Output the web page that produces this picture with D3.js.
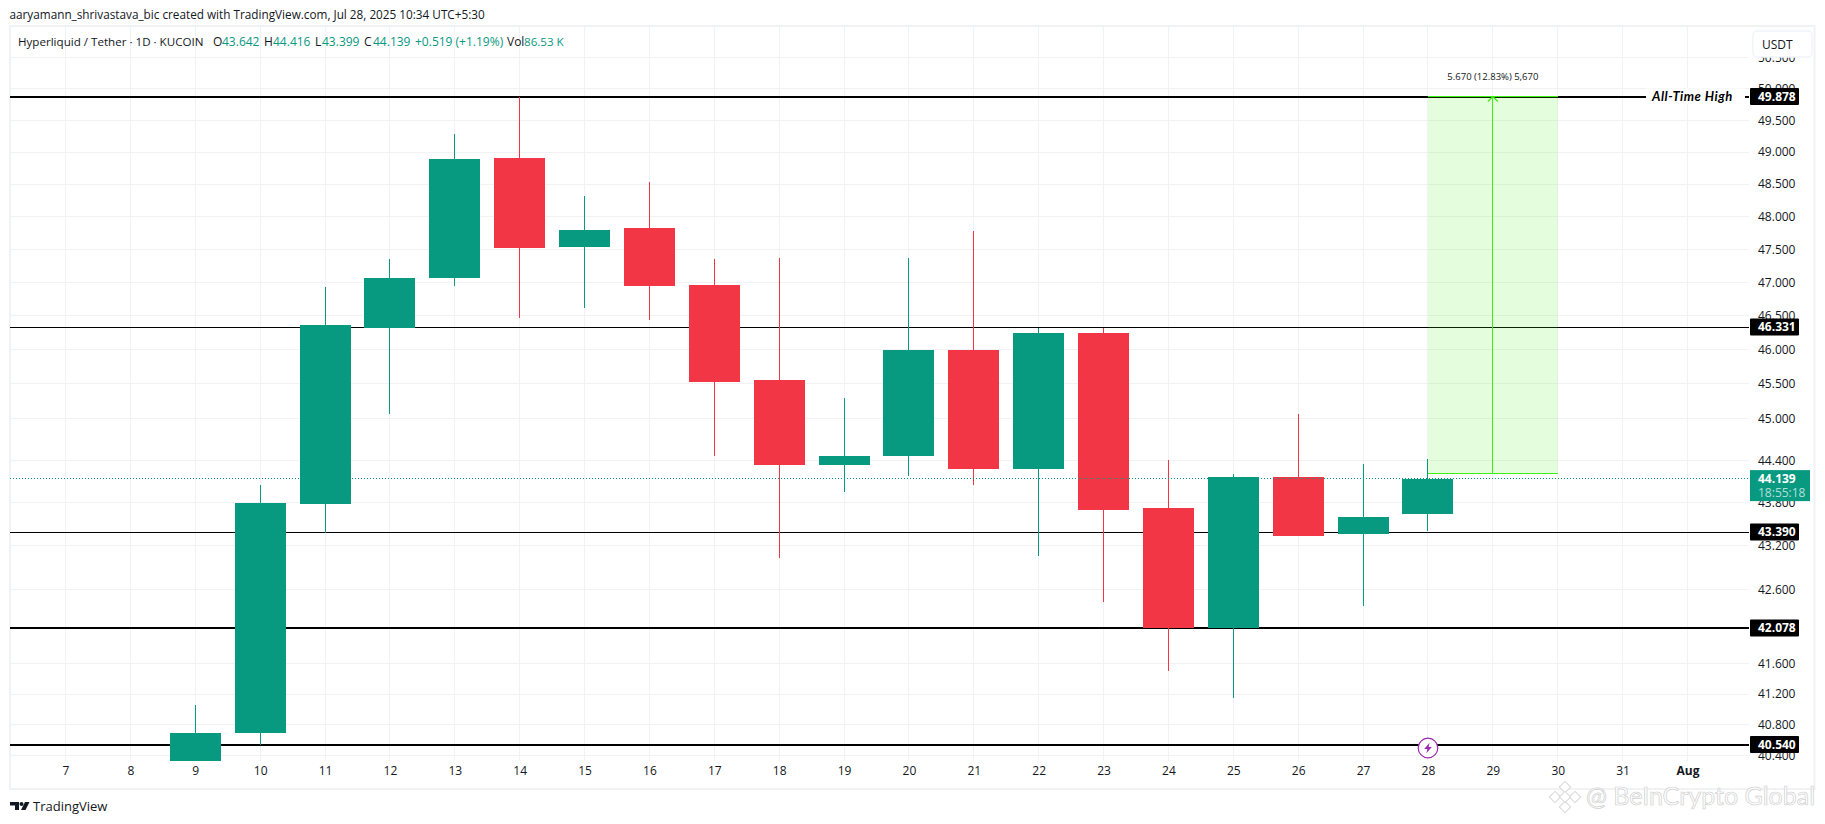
<!DOCTYPE html>
<html>
<head>
<meta charset="utf-8">
<style>
  html, body { margin: 0; padding: 0; background: #fff; }
  text { font-family: "Open Sans", "Noto Sans", sans-serif; }
</style>
<script src="https://cdnjs.cloudflare.com/ajax/libs/d3/7.8.5/d3.min.js"></script>
</head>
<body>
<script>
// values
var days   = [9, 10, 11, 12, 13, 14, 15, 16, 17, 18, 19, 20, 21, 22, 23, 24, 25, 26, 27, 28];
var opens  = [40.324, 40.683, 43.789, 46.325, 47.072, 48.899, 47.526, 47.831, 46.952, 45.547, 44.325, 44.453, 45.986, 44.268, 46.251, 43.733, 42.086, 44.155, 43.357, 43.642];
var highs  = [41.049, 44.042, 46.922, 47.359, 49.291, 49.878, 48.323, 48.540, 47.344, 47.374, 45.285, 47.374, 47.770, 46.325, 46.325, 44.396, 44.211, 45.054, 44.339, 44.416];
var lows   = [40.324, 40.540, 43.371, 45.068, 46.937, 46.459, 46.608, 46.429, 44.453, 43.039, 43.957, 44.169, 44.042, 43.053, 42.424, 41.511, 41.154, 43.330, 42.383, 43.399];
var closes = [40.683, 43.803, 46.355, 47.057, 48.883, 47.511, 47.800, 46.937, 45.518, 44.325, 44.453, 46.000, 44.282, 46.251, 43.705, 42.078, 44.155, 43.343, 43.607, 44.139];

var priceTicks = [50.5, 50, 49.5, 49, 48.5, 48, 47.5, 47, 46.5, 46, 45.5, 45, 44.4, 43.8, 43.2, 42.6, 41.6, 41.2, 40.8, 40.4];
var timeTicks  = [7, 8, 9, 10, 11, 12, 13, 14, 15, 16, 17, 18, 19, 20, 21, 22, 23, 24, 25, 26, 27, 28, 29, 30, 31, 32];
var timeLabels = ["7", "8", "9", "10", "11", "12", "13", "14", "15", "16", "17", "18", "19", "20", "21", "22", "23", "24", "25", "26", "27", "28", "29", "30", "31", "Aug"];

var levels      = [49.878, 46.331, 43.39, 42.078, 40.54];
var levelWeight = [2, 1, 1, 2, 2];
var lastPrice   = 44.139;
var countdown   = "18:55:18";
var measureFrom = 44.208;
var measureTo   = 49.878;
var measureDays = [28, 30];
var measureMid  = 29;
var eventDay    = 28;

var width = 1825,
  height = 824;

var plotLeft = 10,
  plotRight = 1749,
  plotTop = 27,
  plotBottom = 761;

var green = "#089981",
  red = "#f23645",
  lime = "#3cf00f",
  ink = "#131722",
  gridColor = "#f1f2f4";

var svg = d3.select("body").append("svg")
  .attr("width", width)
  .attr("height", height)
  .style("display", "block");

var x = d3.scaleLinear().domain([7, 32]).range([65.5, 1687.5]);
var y = d3.scaleLog().domain([40.54, 49.878]).range([744.5, 96.5]);

var candleWidth = (x(8) - x(7)) * 0.786;

svg.append("clipPath").attr("id", "plot")
  .append("rect")
  .attr("x", plotLeft)
  .attr("y", plotTop)
  .attr("width", plotRight - plotLeft)
  .attr("height", plotBottom - plotTop);

// frame
svg.append("rect")
  .attr("x", 10)
  .attr("y", 26)
  .attr("width", 1804.5)
  .attr("height", 763)
  .attr("fill", "none")
  .attr("stroke", "#f1f2f4")
  .attr("stroke-width", 2);

// grid
var grid = svg.append("g").attr("clip-path", "url(#plot)");

grid.selectAll("line.h")
  .data(priceTicks)
  .enter().append("line")
  .attr("class", "h")
  .attr("x1", plotLeft)
  .attr("x2", plotRight)
  .attr("y1", function(d) { return y(d); })
  .attr("y2", function(d) { return y(d); })
  .attr("stroke", gridColor)
  .attr("stroke-width", 1)
  .attr("shape-rendering", "crispEdges");

grid.selectAll("line.v")
  .data(timeTicks)
  .enter().append("line")
  .attr("class", "v")
  .attr("x1", function(d) { return x(d); })
  .attr("x2", function(d) { return x(d); })
  .attr("y1", plotTop)
  .attr("y2", plotBottom)
  .attr("stroke", gridColor)
  .attr("stroke-width", 1)
  .attr("shape-rendering", "crispEdges");

// horizontal levels sit under the candles
var chart = svg.append("g").attr("clip-path", "url(#plot)");

chart.selectAll("line.level")
  .data(levels)
  .enter().append("line")
  .attr("class", "level")
  .attr("x1", plotLeft)
  .attr("x2", plotRight)
  .attr("y1", function(d) { return y(d); })
  .attr("y2", function(d) { return y(d); })
  .attr("stroke", "#000")
  .attr("stroke-width", function(d, i) { return levelWeight[i]; })
  .attr("shape-rendering", "crispEdges");

// candles
var candle = chart.selectAll("g.candle")
  .data(days)
  .enter().append("g")
  .attr("class", "candle");

function candleColor(d, i) {
  return closes[i] >= opens[i] ? green : red;
}

candle.append("line")
  .attr("x1", function(d) { return x(d); })
  .attr("x2", function(d) { return x(d); })
  .attr("y1", function(d, i) { return y(highs[i]); })
  .attr("y2", function(d, i) { return y(lows[i]); })
  .attr("stroke", candleColor)
  .attr("stroke-width", 1)
  .attr("shape-rendering", "crispEdges");

candle.append("rect")
  .attr("x", function(d) { return x(d) - candleWidth / 2; })
  .attr("width", candleWidth)
  .attr("y", function(d, i) { return y(Math.max(opens[i], closes[i])); })
  .attr("height", function(d, i) { return y(Math.min(opens[i], closes[i])) - y(Math.max(opens[i], closes[i])); })
  .attr("fill", candleColor)
  .attr("shape-rendering", "crispEdges");

// last price dotted line
chart.append("line")
  .attr("x1", plotLeft)
  .attr("x2", plotRight)
  .attr("y1", y(lastPrice))
  .attr("y2", y(lastPrice))
  .attr("stroke", green)
  .attr("stroke-width", 1)
  .attr("stroke-dasharray", "1,2")
  .attr("shape-rendering", "crispEdges");

// measure tool
var m = svg.append("g");
var mx0 = x(measureDays[0]),
  mx1 = x(measureDays[1]),
  mxc = x(measureMid),
  my0 = y(measureFrom),
  my1 = y(measureTo);

m.append("rect")
  .attr("x", mx0)
  .attr("y", my1)
  .attr("width", mx1 - mx0)
  .attr("height", my0 - my1)
  .attr("fill", "#4cf01a")
  .attr("fill-opacity", 0.15);

m.selectAll("line.edge")
  .data([measureFrom, measureTo])
  .enter().append("line")
  .attr("class", "edge")
  .attr("x1", mx0)
  .attr("x2", mx1)
  .attr("y1", function(d) { return y(d); })
  .attr("y2", function(d) { return y(d); })
  .attr("stroke", lime)
  .attr("stroke-width", 1)
  .attr("shape-rendering", "crispEdges");

m.append("line")
  .attr("x1", mxc)
  .attr("x2", mxc)
  .attr("y1", my0)
  .attr("y2", my1)
  .attr("stroke", lime)
  .attr("stroke-width", 1)
  .attr("shape-rendering", "crispEdges");

m.append("path")
  .attr("d", "M" + (mxc - 5) + "," + (my1 + 5) + "L" + mxc + "," + my1 + "L" + (mxc + 5) + "," + (my1 + 5))
  .attr("fill", "none")
  .attr("stroke", lime)
  .attr("stroke-width", 1.2);

m.append("text")
  .attr("x", mxc)
  .attr("y", my1 - 19.5)
  .attr("dy", "0.35em")
  .attr("text-anchor", "middle")
  .attr("font-size", 9.5)
  .attr("fill", ink)
  .text("5.670 (12.83%) 5,670");

// wick of the last candle stays above the tool
svg.append("line")
  .attr("x1", x(28))
  .attr("x2", x(28))
  .attr("y1", y(highs[19]))
  .attr("y2", y(closes[19]))
  .attr("stroke", green)
  .attr("stroke-width", 1)
  .attr("shape-rendering", "crispEdges");

// all time high label cuts into its line
svg.append("rect")
  .attr("x", 1646)
  .attr("y", y(49.878) - 8)
  .attr("width", 99)
  .attr("height", 16)
  .attr("fill", "#fff");

svg.append("text")
  .attr("x", 1652)
  .attr("y", y(49.878))
  .attr("dy", "0.35em")
  .attr("font-size", 13)
  .attr("font-weight", 700)
  .attr("font-style", "italic")
  .attr("letter-spacing", 0.5)
  .attr("fill", "#000")
  .style("font-family", "Lato, sans-serif")
  .text("All-Time High");

// event icon on the time axis
var bolt = svg.append("g")
  .attr("transform", "translate(" + x(eventDay) + "," + (plotBottom - 13) + ")");

bolt.append("circle")
  .attr("r", 9.8)
  .attr("fill", "#fff")
  .attr("stroke", "#9c27b0")
  .attr("stroke-width", 1.2);

bolt.append("path")
  .attr("d", "M1.6,-5.2L-3.8,1L-0.6,1L-1.6,5.2L3.8,-1L0.6,-1Z")
  .attr("fill", "#9c27b0");

// axes
var priceAxis = d3.axisRight(y)
  .tickValues(priceTicks)
  .tickFormat(d3.format(".3f"))
  .tickSize(0)
  .tickPadding(9);

var pa = svg.append("g")
  .attr("transform", "translate(" + plotRight + ",0)")
  .call(priceAxis);
pa.select(".domain").remove();
pa.selectAll("text")
  .attr("font-size", 12)
  .attr("fill", ink)
  .style("font-family", "\"Open Sans\", sans-serif");

var timeAxis = d3.axisBottom(x)
  .tickValues(timeTicks)
  .tickFormat(function(d, i) { return timeLabels[i]; })
  .tickSize(0)
  .tickPadding(5);

var ta = svg.append("g")
  .attr("transform", "translate(0," + plotBottom + ")")
  .call(timeAxis);
ta.select(".domain").remove();
ta.selectAll("text")
  .attr("font-size", 12)
  .attr("fill", ink)
  .attr("font-weight", function(d) { return d === 32 ? 700 : 400; })
  .style("font-family", "\"Open Sans\", sans-serif");

// price tags
var tag = svg.selectAll("g.tag")
  .data(levels)
  .enter().append("g")
  .attr("class", "tag")
  .attr("transform", function(d) { return "translate(" + plotRight + "," + y(d) + ")"; });

tag.append("rect")
  .attr("x", 1)
  .attr("y", -8.5)
  .attr("width", 49)
  .attr("height", 17)
  .attr("rx", 1)
  .attr("fill", "#000");

tag.append("text")
  .attr("x", 9)
  .attr("dy", "0.35em")
  .attr("font-size", 12)
  .attr("font-weight", 700)
  .attr("fill", "#fff")
  .text(function(d) { return d3.format(".3f")(d); });

var last = svg.append("g")
  .attr("transform", "translate(" + plotRight + "," + y(lastPrice) + ")");

last.append("rect")
  .attr("x", 1)
  .attr("y", -8.5)
  .attr("width", 60)
  .attr("height", 31)
  .attr("fill", green);

last.append("text")
  .attr("x", 9)
  .attr("dy", "0.35em")
  .attr("font-size", 12)
  .attr("font-weight", 700)
  .attr("fill", "#fff")
  .text(d3.format(".3f")(lastPrice));

last.append("text")
  .attr("x", 9)
  .attr("y", 14)
  .attr("dy", "0.35em")
  .attr("font-size", 12)
  .attr("fill", "#fff")
  .attr("fill-opacity", 0.7)
  .text(countdown);

// currency box
svg.append("rect")
  .attr("x", 1753)
  .attr("y", 31)
  .attr("width", 59)
  .attr("height", 26)
  .attr("rx", 4)
  .attr("fill", "#fff")
  .attr("stroke", "#f0f3fa")
  .attr("stroke-width", 1.5);

svg.append("text")
  .attr("x", 1762)
  .attr("y", 44.5)
  .attr("dy", "0.35em")
  .attr("font-size", 12)
  .attr("fill", ink)
  .text("USDT");

// header
svg.append("text")
  .attr("x", 9.5)
  .attr("y", 15)
  .attr("dy", "0.35em")
  .attr("font-size", 11.75)
  .attr("fill", ink)
  .text("aaryamann_shrivastava_bic created with TradingView.com, Jul 28, 2025 10:34 UTC+5:30");

var legendParts = [
  ["Hyperliquid / Tether · 1D · KUCOIN", 18, ink, 11.6],
  ["O", 213, ink, 12], ["43.642", 222, green, 12],
  ["H", 264, ink, 12], ["44.416", 273, green, 12],
  ["L", 315, ink, 12], ["43.399", 322, green, 12],
  ["C", 364, ink, 12], ["44.139", 373, green, 12],
  ["+0.519 (+1.19%)", 415, green, 12],
  ["Vol", 507, ink, 12], ["86.53 K", 524, green, 11.6]
];

svg.selectAll("text.legend")
  .data(legendParts)
  .enter().append("text")
  .attr("class", "legend")
  .attr("x", function(d) { return d[1]; })
  .attr("y", 41.5)
  .attr("dy", "0.35em")
  .attr("font-size", function(d) { return d[3]; })
  .attr("fill", function(d) { return d[2]; })
  .text(function(d) { return d[0]; });

// footer logo
svg.append("path")
  .attr("d", "M10,802H19V810H15V805.5H10ZM25,802H29.5L25.5,810H21Z")
  .attr("fill", "#131722");
svg.append("circle")
  .attr("cx", 21.5)
  .attr("cy", 804)
  .attr("r", 2)
  .attr("fill", "#131722");

svg.append("text")
  .attr("x", 33)
  .attr("y", 806)
  .attr("dy", "0.35em")
  .attr("font-size", 13)
  .attr("fill", ink)
  .text("TradingView");

// watermark
var mark = svg.append("g")
  .attr("transform", "translate(1565,797)")
  .attr("fill", "#fff")
  .attr("stroke", "#d6d6d6")
  .attr("stroke-width", 1);

[[0, -10], [-10, 0], [10, 0], [0, 10], [0, 0]].forEach(function(c) {
  mark.append("rect")
    .attr("x", c[0] - 4)
    .attr("y", c[1] - 4)
    .attr("width", 8)
    .attr("height", 8)
    .attr("transform", "rotate(45 " + c[0] + " " + c[1] + ")");
});

svg.append("text")
  .attr("x", 1586)
  .attr("y", 796.5)
  .attr("dy", "0.35em")
  .attr("font-size", 25)
  .attr("fill", "#fff")
  .attr("stroke", "#cfcfcf")
  .attr("stroke-width", 0.7)
  .style("font-family", "Lato, sans-serif")
  .text("@ BeInCrypto Global");
</script>
</body>
</html>
